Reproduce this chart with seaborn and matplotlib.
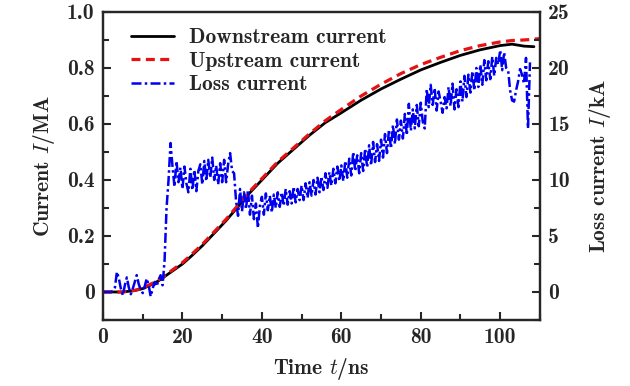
import numpy as np
import pandas as pd
import matplotlib
matplotlib.use('Agg')
import matplotlib.pyplot as plt
import seaborn as sns
from matplotlib.ticker import MultipleLocator

# Currents (MA)
cur_time = [0, 5, 8, 10, 12, 14, 16, 18, 20, 22, 25, 28, 31, 34, 37, 40, 44, 48,
            52, 56, 60, 65, 70, 75, 80, 85, 90, 95, 100, 103, 106, 108.5]
downstream = [0, 0, 0.005, 0.012, 0.025, 0.04, 0.06, 0.08, 0.1, 0.125, 0.165, 0.21,
              0.255, 0.305, 0.355, 0.4, 0.46, 0.51, 0.56, 0.605, 0.64, 0.685, 0.725,
              0.76, 0.793, 0.82, 0.845, 0.865, 0.88, 0.885, 0.878, 0.876]
up_time = [0, 5, 8, 10, 12, 14, 16, 18, 20, 22, 25, 28, 31, 34, 37, 40, 44, 48,
           52, 56, 60, 65, 70, 75, 80, 85, 90, 95, 100, 103, 106, 108, 110]
upstream = [0, 0, 0.006, 0.014, 0.028, 0.043, 0.063, 0.084, 0.105, 0.13, 0.17, 0.215,
            0.26, 0.31, 0.36, 0.405, 0.465, 0.515, 0.565, 0.612, 0.652, 0.7, 0.742,
            0.78, 0.812, 0.838, 0.862, 0.88, 0.893, 0.898, 0.9, 0.902, 0.905]

# Loss current (kA), sampled every 0.5 ns
loss_ka = [
    0, 0, 0, 0, 0, 0.1, 0.4, 1.8, 1.2, 0.3,
    -0.3, 0.6, 1.3, 0.4, -0.2, 0.3, 0.9, 1.5, 0.7, 0.2,
    -0.1, 0.5, 1.2, 0.6, -0.4, 0.3, 0.9, 0.5, 1.1, 1.5,
    0.6, 2.8, 7.5, 10.0, 13.3, 11.2, 9.4, 11.7, 9.8, 11.1,
    9.2, 11.2, 9.7, 8.9, 11.0, 9.1, 10.9, 9.0, 10.8, 11.4,
    9.6, 11.7, 9.9, 11.8, 10.2, 12.0, 10.0, 11.3, 9.6, 11.5,
    9.8, 11.8, 9.8, 11.4, 12.4, 10.8, 10.6, 8.1, 6.8, 9.2,
    7.2, 8.9, 7.4, 9.1, 6.9, 8.6, 6.5, 7.9, 5.7, 7.7,
    8.5, 6.9, 8.8, 7.3, 8.6, 7.1, 8.7, 7.5, 8.9, 7.6,
    8.9, 7.7, 9.2, 7.8, 9.0, 7.9, 9.4, 8.0, 9.2, 8.2,
    9.5, 8.2, 9.7, 8.4, 9.8, 8.6, 10.0, 8.7, 10.2, 8.9,
    10.3, 9.1, 10.6, 9.3, 10.7, 9.5, 11.0, 9.7, 11.2, 9.9,
    11.3, 9.9, 11.7, 10.2, 11.9, 10.4, 12.5, 10.8, 12.2, 10.6,
    12.4, 10.8, 12.8, 11.1, 13.1, 11.3, 13.4, 11.6, 13.2, 11.7,
    13.6, 12.0, 14.1, 12.4, 14.5, 12.8, 14.9, 13.2, 15.4, 13.6,
    15.3, 13.7, 15.9, 14.0, 16.8, 14.4, 16.3, 14.6, 16.7, 14.8,
    16.9, 15.2, 14.6, 18.1, 16.5, 18.5, 16.7, 18.2, 16.2, 17.9,
    17.0, 16.0, 17.4, 16.4, 18.3, 16.6, 18.6, 16.3, 18.1, 16.5,
    18.8, 17.0, 19.3, 17.4, 19.4, 17.8, 19.7, 18.0, 20.0, 18.3,
    20.3, 18.5, 20.7, 18.9, 20.6, 19.0, 21.0, 19.3, 20.9, 20.3,
    21.6, 19.8, 21.4, 20.0, 19.8, 18.0, 17.1, 17.0, 18.0, 18.8,
    19.9, 19.4, 18.6, 20.9, 14.6, 20.5,
]
loss_time = np.arange(len(loss_ka)) * 0.5

df_down = pd.DataFrame({'t': cur_time, 'I': downstream})
df_up = pd.DataFrame({'t': up_time, 'I': upstream})
df_loss = pd.DataFrame({'t': loss_time, 'I': loss_ka})

sns.set_style('ticks')
plt.rcParams['font.family'] = ['cmb10', 'DejaVu Serif']
plt.rcParams['mathtext.fontset'] = 'cm'
plt.rcParams['axes.unicode_minus'] = False
plt.rcParams['axes.formatter.use_mathtext'] = True
fs = 15.5

fig = plt.figure(figsize=(6.3, 3.86), dpi=100)
ax = fig.add_axes([0.1635, 0.171, 0.6935, 0.798])
ax2 = ax.twinx()

sns.lineplot(data=df_down, x='t', y='I', ax=ax, color='black', lw=2.0,
             estimator=None, sort=False, label='Downstream current', legend=False)
sns.lineplot(data=df_up, x='t', y='I', ax=ax, color='#e41212', lw=2.3,
             estimator=None, sort=False, label='Upstream current', legend=False)
ax.lines[-1].set_dashes([2.8, 1.7])
sns.lineplot(data=df_loss, x='t', y='I', ax=ax2, color='#0000f0', lw=1.8,
             estimator=None, sort=False, label='Loss current', legend=False)
ax2.lines[-1].set_dashes([4, 1.3, 1, 1.3])

ax.set_xlim(0, 110)
ax.set_ylim(-0.1, 1.0)
ax2.set_ylim(-2.5, 25)
ax.xaxis.set_major_locator(MultipleLocator(20))
ax.xaxis.set_minor_locator(MultipleLocator(10))
ax.yaxis.set_major_locator(MultipleLocator(0.2))
ax.yaxis.set_minor_locator(MultipleLocator(0.1))
ax2.yaxis.set_major_locator(MultipleLocator(5))
ax2.yaxis.set_minor_locator(MultipleLocator(2.5))
ax.yaxis.set_major_formatter(lambda v, p: '0' if abs(v) < 1e-9 else f'{v:.1f}')
ax2.yaxis.set_major_formatter(lambda v, p: f'{v:.0f}')
ax.xaxis.set_major_formatter(lambda v, p: f'{v:.0f}')

for a in (ax, ax2):
    a.tick_params(which='both', direction='in', width=1.5, labelsize=fs, pad=6)
    a.tick_params(which='major', length=6)
    a.tick_params(which='minor', length=4)
    for s in a.spines.values():
        s.set_linewidth(1.6)
        s.set_visible(True)
ax.tick_params(axis='y', which='both', right=False)
ax.tick_params(axis='x', which='both', top=False)

ax.set_xlabel(r'Time $t$/ns', fontsize=fs, labelpad=6)
ax.set_ylabel(r'Current $I$/MA', fontsize=fs, labelpad=7)
ax2.set_ylabel(r'Loss current $I$/kA', fontsize=fs, labelpad=12)

handles = ax.lines + ax2.lines
ax2.legend(handles, [h.get_label() for h in handles], loc='upper left',
           frameon=False, fontsize=fs, handlelength=2.0, handletextpad=0.7,
           labelspacing=0.2, borderaxespad=0, bbox_to_anchor=(0.045, 0.975))

fig.savefig('out.png', dpi=100)
